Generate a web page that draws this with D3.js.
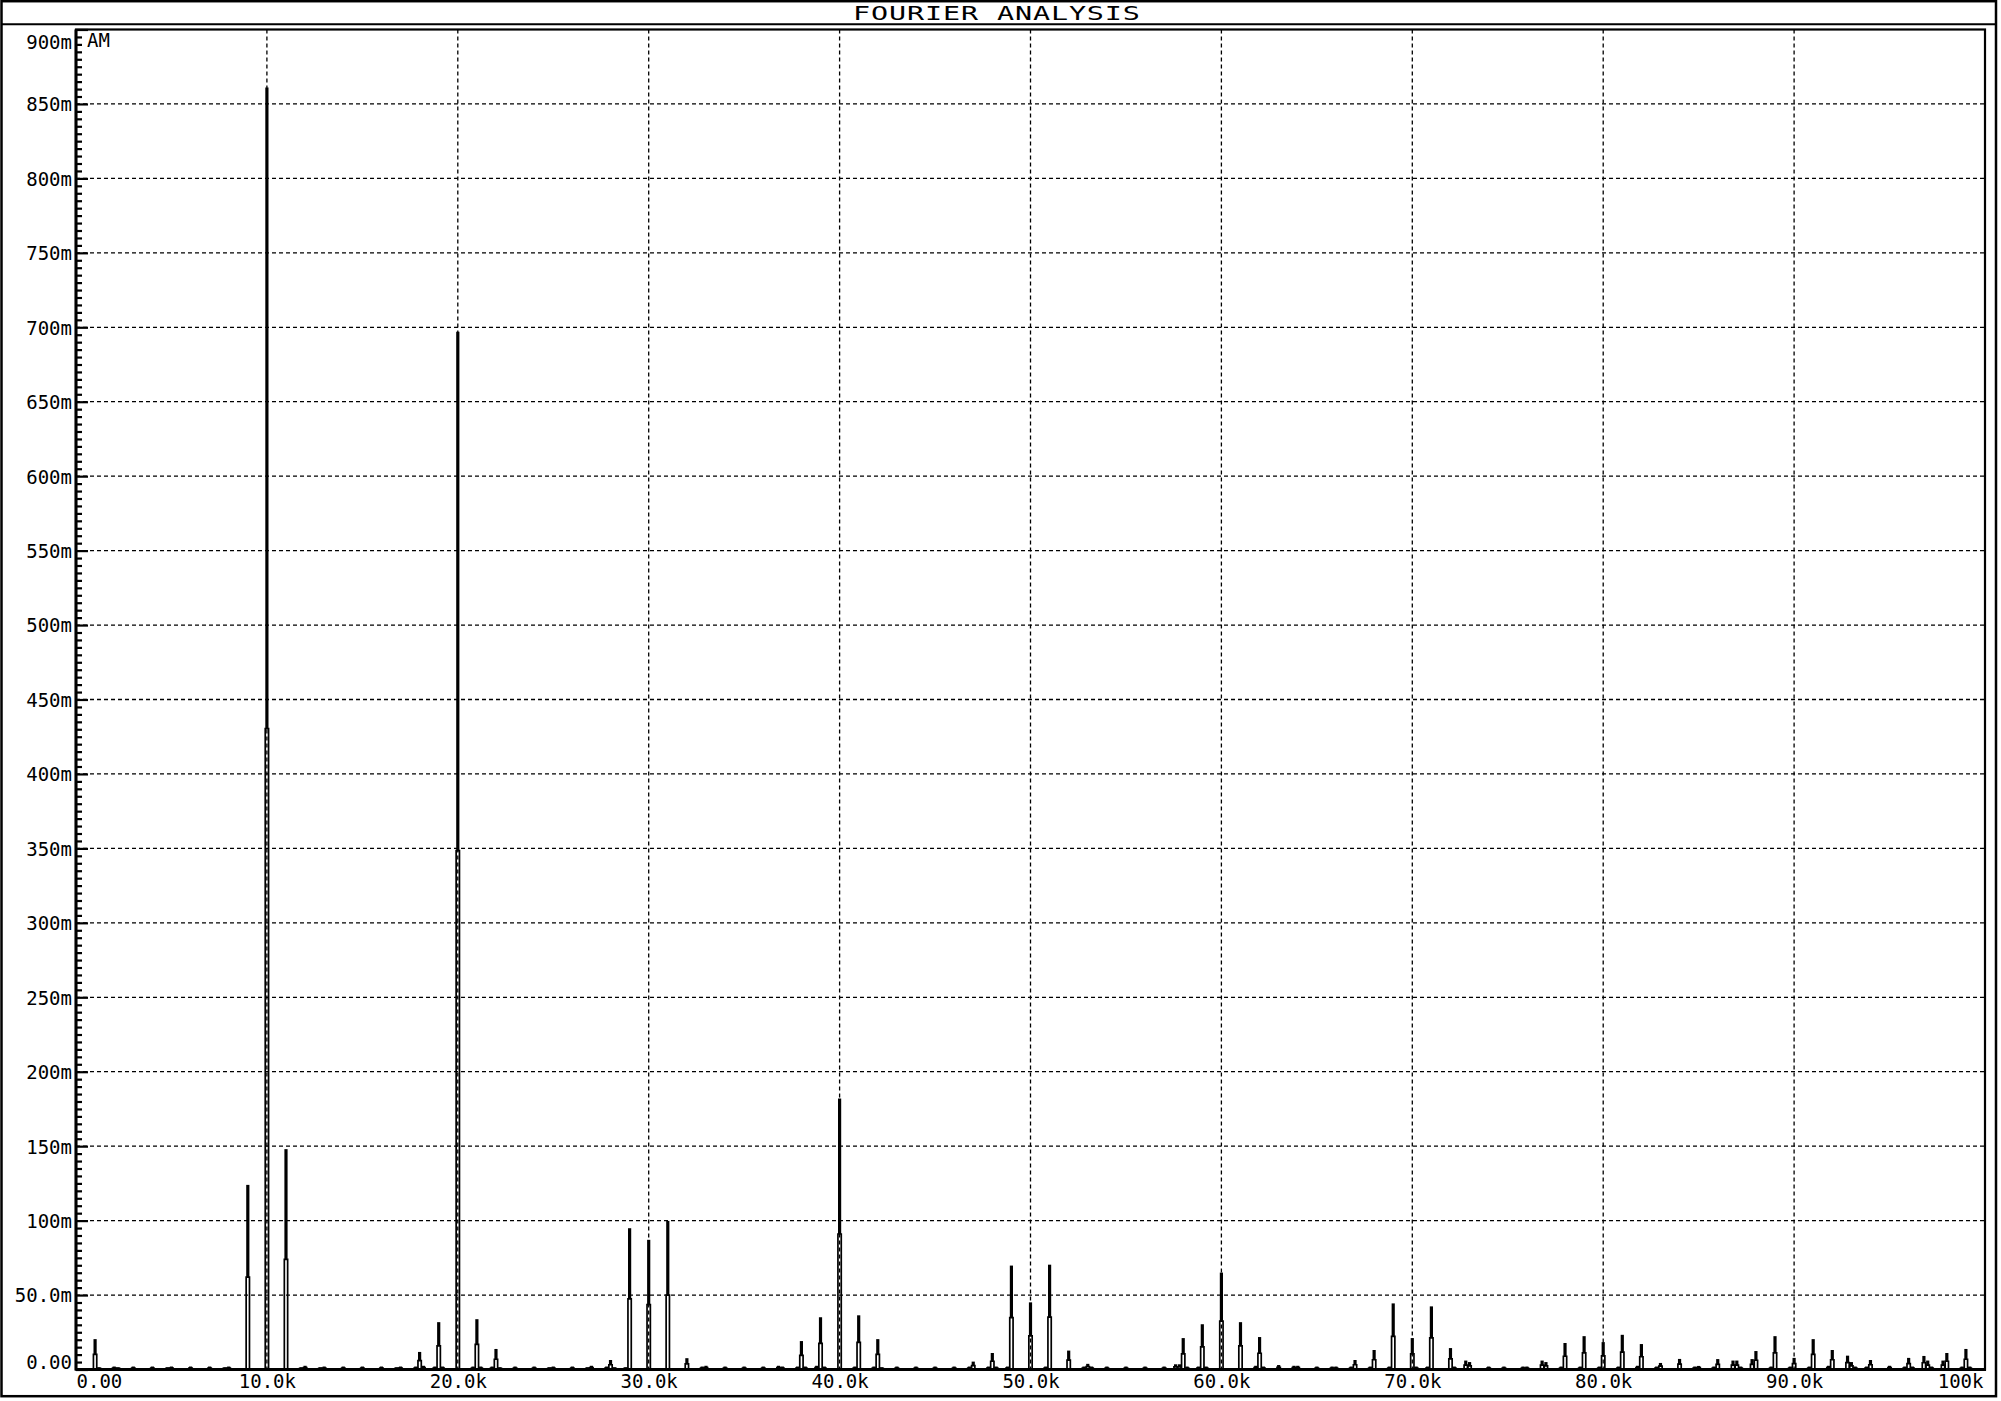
<!DOCTYPE html>
<html>
<head>
<meta charset="utf-8">
<script src="https://cdn.jsdelivr.net/npm/d3@7"></script>
<style>
  html, body { margin: 0; padding: 0; background: #fff; }
  svg { display: block; }
  text { font-family: "DejaVu Sans Mono", "Liberation Mono", monospace; fill: #000; }
</style>
</head>
<body>
<script>
// ---------- data (frequency in kHz, magnitude in milli-units) ----------
const peakFreqK = [1, 9, 10, 11, 18, 19, 20, 21, 22, 28, 29, 30, 31, 32,
  38, 39, 40, 41, 42, 47, 48, 49, 50, 51, 52, 53,
  58, 59, 60, 61, 62, 67, 68, 69, 70, 71, 72, 72.8, 73,
  76.8, 77, 78, 79, 80, 81, 82, 83, 84, 85, 86, 86.8, 87, 87.8, 88,
  89, 90, 91, 92, 92.8, 93, 94, 95, 96, 96.8, 97, 97.8, 98, 99];
const peakMagM = [20.4, 124, 861, 148, 11.8, 31.8, 697, 33.8, 13.8, 6.4, 94.9, 87.1, 99.8, 7.6,
  19.1, 35.1, 182, 36.4, 20.4, 5.3, 11.1, 69.8, 45.1, 70.4, 12.7, 3.8,
  21.1, 30.4, 65.1, 31.8, 21.8, 6.4, 13.1, 44.4, 21.1, 42.4, 14.4, 6, 5,
  6, 5, 17.8, 22.4, 18.4, 23.3, 17.1, 4.4, 7.1, 2.4, 7, 6, 6, 7, 12.4,
  22.4, 7.8, 20.4, 13.1, 9.3, 5, 6.4, 2.5, 7.8, 9.1, 6, 6, 11.1, 13.8];

const noiseFreqK = [0.8, 1.2, 1.8, 2, 2.2, 3, 4, 4.8, 5, 6, 7, 7.8, 8, 8.8, 9.2, 10.8, 11.8, 12, 12.8, 13,
  14, 15, 16, 16.8, 17, 17.8, 18.2, 18.8, 19.2, 20.8, 21.2, 21.8, 22.2, 23, 24, 24.8, 25, 26, 26.8, 27,
  27.8, 28.2, 28.8, 32.8, 33, 34, 35, 36, 36.8, 37, 37.8, 38.2, 38.8, 39.2, 40.8, 41.8, 42.2, 43, 44, 45,
  46, 46.8, 47.8, 48.2, 48.8, 50.8, 52.8, 53.2, 54, 55, 56, 57, 57.6, 57.8, 58.2, 58.8, 59.2, 61.8, 62.2, 63,
  63.8, 64, 65, 65.8, 66, 66.8, 67.8, 68.8, 70.2, 70.8, 72.2, 74, 74.8, 75.8, 76, 77.8, 78.8, 79.8, 80.8, 81.8,
  82.8, 84.8, 85.8, 87.2, 88.8, 89.8, 90.8, 91.8, 93.2, 93.8, 95.8, 96.2, 97.2, 98.8, 99.2];
const noiseMagM = [1, 1.5, 1, 2, 1.5, 2, 2, 1.5, 2, 2, 2, 1.5, 2, 1, 1, 1, 1.5, 2.5, 1.5, 2,
  2, 2, 2, 1.5, 2, 2, 2.5, 2, 2, 2, 2, 2, 1.5, 2, 2, 1.5, 2, 2, 1.5, 2.5,
  2, 1.5, 1.5, 2, 2.5, 2, 2, 2, 2.5, 2, 2, 2, 2.5, 2, 2, 2, 1.5, 2, 2, 2,
  2, 2, 2, 2, 2, 2, 2, 2, 2, 2, 2, 2, 3.5, 3.5, 2, 2, 2, 2.5, 2, 3,
  2.5, 2.5, 2, 2, 2, 2, 2, 2, 2, 2, 2, 2, 2, 2, 2, 2, 2, 2, 2, 2.5,
  2, 2, 2, 2, 2, 2, 2, 2.5, 2, 2, 2, 2, 2, 2, 2];

const xTickValues = [0, 10, 20, 30, 40, 50, 60, 70, 80, 90, 100];
const xTickLabels = ["0.00", "10.0k", "20.0k", "30.0k", "40.0k", "50.0k", "60.0k", "70.0k", "80.0k", "90.0k", "100k"];
const yTickValues = [0, 50, 100, 150, 200, 250, 300, 350, 400, 450, 500, 550, 600, 650, 700, 750, 800, 850, 900];
const yTickLabels = ["0.00", "50.0m", "100m", "150m", "200m", "250m", "300m", "350m", "400m", "450m", "500m",
  "550m", "600m", "650m", "700m", "750m", "800m", "850m", "900m"];
const titleText = "FOURIER ANALYSIS";
const traceName = "AM";

// ---------- layout ----------
const W = 2001, H = 1401;
const L = 76, R = 1985, T = 29.5, B = 1369.5;
const binHalf = 0.087; // half width of a spectral line, kHz

const svg = d3.select("body").append("svg").attr("width", W).attr("height", H);

const x = d3.scaleLinear().domain([0, 100]).range([L, R]);
const y = d3.scaleLinear().domain([0, 900]).range([B, T]);

// outer frame + title band
svg.append("rect").attr("x", 1.5).attr("y", 1.2).attr("width", 1994.5).attr("height", 1395)
  .attr("fill", "none").attr("stroke", "#000").attr("stroke-width", 2.5);
svg.append("line").attr("x1", 1.5).attr("x2", 1996).attr("y1", 24.3).attr("y2", 24.3)
  .attr("stroke", "#000").attr("stroke-width", 2);
svg.append("text").attr("transform", "translate(996.5,19.5) scale(1.42,1)").attr("text-anchor", "middle")
  .attr("font-size", 20).attr("textLength", 202).attr("lengthAdjust", "spacing")
  .text(titleText);

// grid
const grid = svg.append("g").attr("stroke", "#000").attr("stroke-width", 1.3).attr("stroke-dasharray", "4,3");
grid.selectAll("line.h").data(yTickValues.filter(v => v > 0 && v < 900)).join("line")
  .attr("x1", L).attr("x2", R).attr("y1", d => y(d)).attr("y2", d => y(d));
grid.selectAll("line.v").data(xTickValues.filter(v => v > 0 && v < 100)).join("line")
  .attr("y1", T).attr("y2", B).attr("x1", d => x(d)).attr("x2", d => x(d));

// spectrum lines: hollow lower half (two adjacent bins) + solid stem to the peak
const line = d3.line().x(d => x(d[0])).y(d => y(d[1]));
const allF = noiseFreqK.concat(peakFreqK);
const allV = noiseMagM.concat(peakMagM);
const spikes = allF.map((f, i) => ({ f: f, v: allV[i] }));
const trace = svg.append("g").attr("fill", "none").attr("stroke", "#000").attr("stroke-linejoin", "miter");
trace.selectAll("path.box").data(spikes).join("path").attr("class", "box")
  .attr("stroke-width", 1.7)
  .attr("d", s => line([[s.f - binHalf, 0], [s.f - binHalf, s.v / 2], [s.f + binHalf, s.v / 2], [s.f + binHalf, 0]]));
trace.selectAll("path.stem").data(spikes).join("path").attr("class", "stem")
  .attr("stroke-width", 3.2)
  .attr("d", s => line([[s.f, s.v / 2], [s.f, s.v]]));

// plot frame
svg.append("rect").attr("x", L).attr("y", T).attr("width", R - L).attr("height", B - T)
  .attr("fill", "none").attr("stroke", "#000").attr("stroke-width", 2.2);

// y ticks (inside, pointing right)
const minorY = d3.range(0, 901, 5).filter(v => v % 50 !== 0);
const yMinor = svg.append("g").attr("transform", `translate(${L},0)`)
  .call(d3.axisRight(y).tickValues(minorY).tickSize(6).tickFormat(""));
const yMajor = svg.append("g").attr("transform", `translate(${L},0)`)
  .call(d3.axisRight(y).tickValues(yTickValues).tickSize(12).tickFormat(""));
[yMinor, yMajor].forEach(g => {
  g.select(".domain").remove();
  g.selectAll("line").attr("stroke", "#000").attr("stroke-width", 2.2);
});

// y labels
const yLab = svg.append("g").attr("transform", `translate(${L},0)`)
  .call(d3.axisLeft(y).tickValues(yTickValues).tickSize(0).tickPadding(4)
    .tickFormat((d, i) => yTickLabels[i]));
yLab.select(".domain").remove();
yLab.selectAll("text").attr("font-size", 19).attr("font-family", null).attr("fill", "#000")
  .attr("dy", d => d === 900 ? "1.0em" : d === 0 ? "-0.06em" : "0.36em");

// x labels
const xLab = svg.append("g").attr("transform", `translate(0,${B})`)
  .call(d3.axisBottom(x).tickValues(xTickValues).tickSize(0).tickPadding(5)
    .tickFormat((d, i) => xTickLabels[i]));
xLab.select(".domain").remove();
xLab.selectAll("text").attr("font-size", 19).attr("font-family", null).attr("fill", "#000")
  .attr("text-anchor", d => d === 0 ? "start" : d === 100 ? "end" : "middle")
  .attr("dx", d => d === 100 ? "-2" : "0");

// axis lines (thicker left & bottom)
svg.append("line").attr("x1", L).attr("x2", L).attr("y1", T).attr("y2", B + 1)
  .attr("stroke", "#000").attr("stroke-width", 3);
svg.append("line").attr("x1", L).attr("x2", R + 1).attr("y1", B).attr("y2", B)
  .attr("stroke", "#000").attr("stroke-width", 3);

// trace name
svg.append("text").attr("x", 87).attr("y", 47).attr("font-size", 19).text(traceName);
</script>
</body>
</html>
